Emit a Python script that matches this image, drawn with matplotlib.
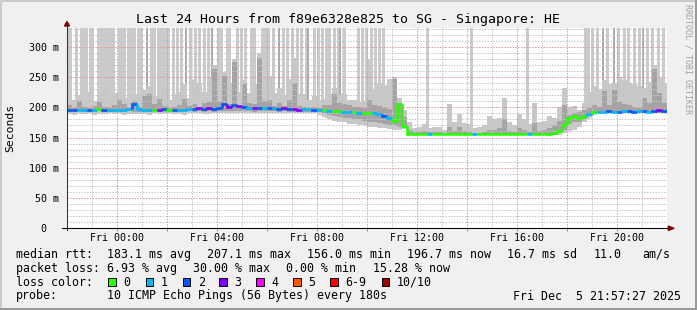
import numpy as np
import matplotlib
matplotlib.use('Agg')
import matplotlib.pyplot as plt
from matplotlib.patches import Rectangle, Polygon
from matplotlib.collections import LineCollection

W, H = 697, 310

# one sample every 12 minutes, time in hours relative to Fri 00:00
t_first = -2.0
t_step = 0.2

rtt_median = [
    196, 195, 196, 196, 195, 196, 197, 196, 196, 195,
    196, 196, 197, 206, 197, 196, 195, 196, 196, 197,
    196, 196, 195, 196, 197, 197, 198, 197, 198, 197,
    199, 206, 201, 203, 202, 200, 199, 198, 198, 199,
    198, 198, 197, 198, 197, 197, 196, 197, 197, 196,
    196, 195, 194, 194, 194, 193, 192, 192, 191, 190,
    191, 190, 189, 186, 183, 177, 205, 169, 156, 156,
    156, 156, 156, 156, 156, 156, 156, 156, 156, 156,
    156, 156, 156, 156, 156, 156, 156, 156, 156, 156,
    156, 156, 156, 156, 156, 156, 156, 157, 160, 170,
    182, 185, 182, 186, 189, 192, 193, 193, 194, 193,
    193, 194, 194, 193, 194, 194, 193, 194, 195, 194,
]
# lost pings out of 10 for each sample
loss = [
    2, 2, 1, 1, 2, 1, 0, 2, 1, 1,
    1, 1, 1, 2, 1, 1, 1, 0, 3, 2,
    0, 2, 1, 1, 1, 2, 3, 2, 3, 2,
    2, 2, 3, 2, 3, 2, 1, 3, 2, 1,
    2, 1, 2, 3, 2, 3, 3, 1, 1, 2,
    1, 0, 1, 0, 0, 1, 1, 0, 1, 0,
    0, 1, 1, 2, 1, 0, 0, 0, 0, 0,
    0, 0, 1, 0, 0, 0, 0, 0, 0, 0,
    0, 1, 0, 0, 0, 0, 0, 0, 0, 0,
    0, 0, 1, 0, 0, 0, 0, 0, 0, 0,
    0, 0, 0, 0, 1, 0, 1, 1, 2, 1,
    2, 1, 2, 2, 1, 2, 1, 2, 3, 2,
]
rtt_lo = [
    189, 188, 190, 189, 190, 188, 190, 189, 190, 189,
    190, 188, 190, 189, 190, 189, 188, 190, 189, 190,
    190, 189, 190, 188, 190, 191, 190, 189, 190, 191,
    190, 191, 190, 191, 190, 191, 190, 190, 191, 190,
    190, 190, 191, 190, 190, 191, 190, 190, 191, 190,
    188, 184, 180, 178, 176, 175, 173, 172, 170, 170,
    168, 167, 166, 165, 164, 163, 163, 164, 155, 155,
    155, 155, 155, 155, 155, 155, 155, 155, 155, 155,
    155, 155, 155, 155, 155, 155, 155, 155, 155, 155,
    155, 155, 155, 155, 155, 155, 155, 155, 155, 158,
    160, 163, 168, 176, 182, 188, 190, 190, 190, 190,
    190, 190, 190, 190, 190, 190, 190, 190, 190, 190,
]
rtt_q_lo = [
    193, 193, 194, 193, 193, 193, 194, 193, 193, 193,
    193, 193, 194, 193, 193, 193, 193, 194, 193, 193,
    193, 193, 193, 193, 194, 193, 194, 193, 194, 193,
    194, 194, 194, 194, 194, 194, 194, 193, 194, 194,
    194, 194, 193, 194, 193, 193, 193, 193, 193, 193,
    192, 190, 188, 186, 184, 183, 182, 181, 180, 178,
    176, 175, 174, 172, 170, 170, 168, 166, 155, 155,
    155, 155, 155, 155, 155, 155, 155, 155, 155, 155,
    155, 155, 155, 155, 155, 155, 155, 155, 155, 155,
    155, 155, 155, 155, 155, 155, 155, 155, 157, 163,
    172, 175, 175, 180, 185, 190, 191, 191, 191, 191,
    191, 191, 191, 191, 191, 191, 191, 191, 191, 191,
]
rtt_q_hi = [
    203, 199, 210, 200, 199, 202, 208, 201, 199, 204,
    212, 205, 199, 210, 201, 218, 222, 206, 214, 202,
    199, 201, 203, 214, 202, 205, 201, 207, 209, 263,
    210, 252, 206, 274, 202, 239, 207, 205, 282, 210,
    212, 202, 207, 202, 212, 240, 202, 201, 199, 200,
    199, 203, 204, 222, 207, 205, 203, 201, 200, 198,
    212, 203, 202, 198, 197, 247, 207, 184, 163, 159,
    159, 161, 159, 159, 159, 158, 168, 161, 168, 161,
    159, 158, 158, 159, 163, 163, 166, 180, 161, 159,
    166, 162, 159, 174, 161, 162, 166, 170, 178, 203,
    188, 190, 192, 196, 199, 203, 201, 227, 203, 228,
    209, 205, 203, 200, 199, 216, 207, 263, 224, 207,
]
rtt_hi = [
    232, 212, 220, 208, 225, 210, 222, 230, 214, 224,
    226, 216, 210, 222, 215, 228, 235, 218, 225, 230,
    212, 222, 225, 238, 216, 245, 240, 225, 250, 270,
    228, 258, 240, 280, 226, 245, 224, 238, 290, 226,
    252, 224, 232, 220, 247, 282, 222, 222, 212, 218,
    212, 214, 222, 232, 222, 222, 212, 212, 208, 210,
    280, 230, 240, 236, 247, 250, 215, 195, 175, 165,
    168, 172, 165, 168, 168, 163, 205, 175, 189, 174,
    172, 165, 168, 170, 185, 180, 183, 216, 175, 170,
    189, 180, 172, 207, 175, 178, 185, 183, 200, 232,
    200, 202, 195, 207, 225, 235, 230, 245, 238, 240,
    250, 245, 240, 238, 235, 232, 242, 270, 250, 240,
]

# single pings far above the scale (hours)
spike_light_t = [
    -1.96, -1.88, -1.64, -1.44, -1.36, -1.24, -1.08, -1.00, -0.76, -0.64,
    -0.52, -0.40, -0.28, -0.16, 0.08, 0.16, 0.28, 0.44, 0.56, 0.68,
    0.84, 0.96, 1.36, 1.48, 1.64, 1.76, 1.84, 1.92,
    2.04, 2.24, 2.40, 2.56, 2.92, 3.12, 3.28, 3.48, 3.64, 4.04,
    4.16, 4.40, 4.52, 4.80, 4.96, 5.12, 5.36, 5.48, 5.80, 5.92,
    6.04, 6.24, 6.64, 6.80, 7.00, 7.20, 7.36, 7.56, 7.88, 8.04,
    8.20, 8.36, 8.48, 8.68, 8.84, 9.08, 9.64, 9.80, 9.96,
    10.16, 10.32, 10.48, 10.64, 12.40, 14.20, 16.40,
    18.72, 18.84, 19.00, 19.20, 19.60, 20.04, 20.28, 20.44, 20.68, 20.88,
    21.20, 21.40, 21.64, 21.84,
]
spike_mid_t = [1.20, 2.76, 3.80, 6.48, 7.64, 8.92, 19.44, 19.88, 21.04]

tick_hours = [0, 4, 8, 12, 16, 20]
tick_labels = ['Fri 00:00', 'Fri 04:00', 'Fri 08:00', 'Fri 12:00', 'Fri 16:00', 'Fri 20:00']
ytick_vals = [0, 50, 100, 150, 200, 250, 300]
ytick_labels = ['0  ', '50 m', '100 m', '150 m', '200 m', '250 m', '300 m']

loss_colors = ['#26ff00', '#00b8ff', '#0059ff', '#7e00ff', '#ff00ff', '#ff5500', '#ff0000', '#a10000']
loss_labels = ['0', '1', '2', '3', '4', '5', '6-9', '10/10']

title = 'Last 24 Hours from f89e6328e825 to SG - Singapore: HE'
rtt_stats = ['183.1 ms avg', '207.1 ms max', '156.0 ms min', '196.7 ms now', '16.7 ms sd', '11.0', 'am/s']
loss_stats = ['6.93 % avg', '30.00 % max', '0.00 % min', '15.28 % now']
probe_text = '10 ICMP Echo Pings (56 Bytes) every 180s'
stamp = 'Fri Dec  5 21:57:27 2025'

plt.rcParams['font.family'] = 'DejaVu Sans Mono'

times = t_first + t_step * np.arange(len(rtt_median))
edges = np.append(times, times[-1] + t_step)


def stepped(v):
    return np.append(v, v[-1])


fig = plt.figure(figsize=(W / 100, H / 100), dpi=100)
fig.patch.set_facecolor('#f0f0f0')
ax = fig.add_axes([67 / W, 1 - 228.3 / H, 600 / W, 200.3 / H])
ax.set_xlim(-2, 22)
ax.set_ylim(0, 331)
for s in ax.spines.values():
    s.set_visible(False)

# smoke
centers = times + t_step / 2
b = np.interp(spike_light_t, centers, rtt_lo)
ax.bar(spike_light_t, 400 - b, bottom=b, width=0.12, color='#cbcbcb', linewidth=0, zorder=1)
b = np.interp(spike_mid_t, centers, rtt_lo)
ax.bar(spike_mid_t, 400 - b, bottom=b, width=0.1, color='#ababab', linewidth=0, zorder=1.1)
ax.fill_between(edges, stepped(rtt_lo), stepped(rtt_hi), step='post', color='#c8c8c8', linewidth=0, zorder=1.2)
ax.fill_between(edges, stepped(rtt_q_lo), stepped(rtt_q_hi), step='post', color='#a4a4a4', linewidth=0, zorder=1.3)

# grid (rrdtool puts it over the data)
minor_c = '#c4c4c4'
major_c = '#e49494'
dots = (0, (1.4, 1.4))
for h in np.arange(-1, 22, 1.0):
    ax.axvline(h, color=major_c if h % 2 == 0 else minor_c, lw=0.72, ls=dots, zorder=2.5)
for v in np.arange(10, 331, 10):
    ax.axhline(v, color=major_c if v % 50 == 0 else minor_c, lw=0.72, ls=dots, zorder=2.5)

# median coloured by loss
segs = []
prev = rtt_median[0]
for t, m in zip(times, rtt_median):
    segs.append([(t, prev), (t, m), (t + t_step, m)])
    prev = m
cols = [loss_colors[7] if l >= 10 else loss_colors[min(l, 6)] for l in loss]
ax.add_collection(LineCollection(segs, colors=cols, linewidths=1.9, capstyle='butt', joinstyle='miter', zorder=3))

# axes with arrows
px_x = 24 / 600
px_y = 331 / 200.3
ax.plot([-2, -2], [-2 * px_y, 331 + 2 * px_y], color='#6a1e1e', lw=0.75, clip_on=False, zorder=4)
ax.add_patch(Polygon([(-2 - 2.5 * px_x, 331 + 2 * px_y), (-2 + 2.5 * px_x, 331 + 2 * px_y), (-2, 331 + 6.5 * px_y)],
                     closed=True, color='#7f0000', clip_on=False, zorder=4))
ax.plot([-2 - 5 * px_x, 22 + 1.3 * px_x], [0, 0], color='black', lw=0.75, clip_on=False, zorder=4)
ax.add_patch(Polygon([(22 + 1.3 * px_x, -2.2 * px_y), (22 + 1.3 * px_x, 2.2 * px_y), (22 + 7 * px_x, 0)],
                     closed=True, color='#7f0000', clip_on=False, zorder=4))

ax.set_xticks(tick_hours, tick_labels)
ax.set_xticks([2, 6, 10, 14, 18], minor=True)
ax.tick_params(axis='x', which='both', length=2.2, width=0.7, color='#d07878', pad=1.2, labelsize=7.2)
ax.set_yticks(ytick_vals, ytick_labels)
ax.tick_params(axis='y', length=0, pad=5.5, labelsize=7.2)


def put(x, y, s, **kw):
    fig.text(x / W, 1 - y / H, s, va='center', **kw)


put(347.5, 19.3, title, ha='center', size=9.5)
put(10.5, 128, 'Seconds', ha='center', rotation=90, size=8.2)
fig.text(688 / W, 1 - 4 / H, 'RRDTOOL / TOBI OETIKER', rotation=-90, ha='center', va='top', size=6, color='#a0a0a0')

fs = 8.4
put(16, 254.3, 'median rtt:', size=fs)
for x, s in zip([107.3, 207.3, 307.3, 407.3, 507.3, 593.3, 642.3], rtt_stats):
    put(x, 254.3, s, size=fs)
put(16, 268.3, 'packet loss:', size=fs)
for x, s in zip([107.3, 192.7, 285.7, 372.7], loss_stats):
    put(x, 268.3, s, size=fs)
put(16, 282.3, 'loss color:', size=fs)
for x, c, s in zip([108.3, 145.7, 182.7, 219.3, 256, 293.3, 330, 381.7], loss_colors, loss_labels):
    fig.patches.append(Rectangle((x / W, 1 - 286.3 / H), 7.7 / W, 8 / H, transform=fig.transFigure,
                                 facecolor=c, edgecolor='black', lw=0.7))
    put(x + 15, 282.3, s, size=fs)
put(16, 296, 'probe:', size=fs)
put(107.3, 296, probe_text, size=fs)
put(513.3, 296, stamp, size=fs)

# 3d frame
fig.patches.append(Rectangle((0, 1 - 2 / H), 1, 2 / H, transform=fig.transFigure, color='#cbcbcb', lw=0))
fig.patches.append(Rectangle((0, 0), 2 / W, 1, transform=fig.transFigure, color='#cbcbcb', lw=0))
fig.patches.append(Rectangle((0, 0), 1, 2 / H, transform=fig.transFigure, color='#999999', lw=0))
fig.patches.append(Rectangle((1 - 2 / W, 0), 2 / W, 1, transform=fig.transFigure, color='#999999', lw=0))

fig.savefig('out.png', dpi=100, facecolor=fig.get_facecolor())
